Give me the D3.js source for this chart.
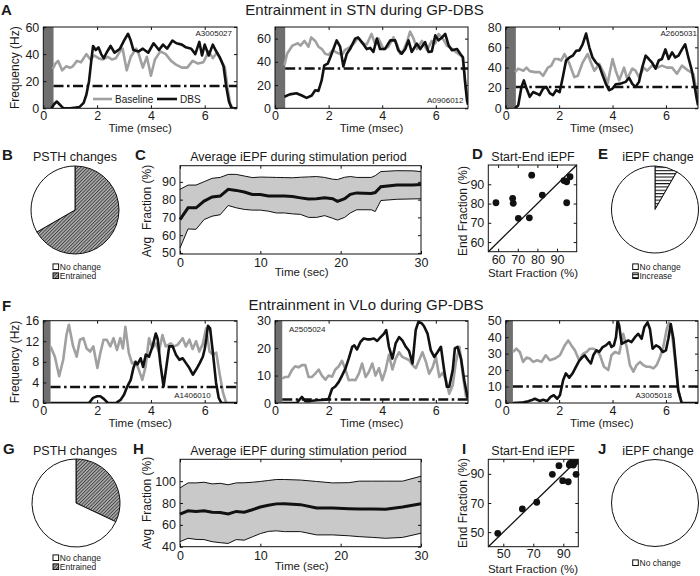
<!DOCTYPE html>
<html><head><meta charset="utf-8">
<script src="https://cdn.jsdelivr.net/npm/d3@7"></script>
<style>
body{margin:0;background:#fff}
svg{font-family:"Liberation Sans",Arial,sans-serif}
text{fill:#1a1a1a}
</style>
</head><body>
<script>
// ---------------- DATA ----------------
const timeTicks = [0, 2, 4, 6];
// Panel A (STN) traces: [time ms, frequency Hz]
const a1Baseline = [[0.35,29],[0.45,33],[0.55,35],[0.7,28],[0.85,31],[1.0,30],[1.1,31],[1.25,35],[1.4,34],[1.6,40],[1.75,36],[1.9,39],[2.05,37],[2.2,36],[2.4,38],[2.55,36],[2.7,37],[2.85,42],[2.95,44],[3.1,28],[3.25,38],[3.45,44],[3.55,40],[3.7,30],[3.85,38],[4.0,24],[4.15,36],[4.35,42],[4.55,40],[4.75,35],[4.95,32],[5.15,30],[5.35,30],[5.55,35],[5.75,33],[5.95,34],[6.15,42],[6.3,37],[6.45,41],[6.6,36],[6.75,30],[6.85,15],[6.95,3],[7.05,0]];
const a1Dbs = [[0.3,0],[0.4,3],[0.5,5],[0.6,3],[0.75,0],[1.0,0],[1.2,0.5],[1.35,1],[1.5,4],[1.6,10],[1.7,20],[1.8,38],[1.85,46],[1.95,43],[2.05,45],[2.15,40],[2.25,37],[2.35,41],[2.5,46],[2.65,41],[2.85,44],[3.0,50],[3.15,55],[3.25,50],[3.35,43],[3.55,42],[3.7,44],[3.9,41],[4.1,48],[4.3,43],[4.45,47],[4.6,44],[4.8,50],[4.95,48],[5.15,47],[5.3,45],[5.5,44],[5.65,40],[5.8,49],[5.9,39],[6.0,47],[6.15,39],[6.3,47],[6.4,43],[6.55,38],[6.7,31],[6.8,16],[6.9,5],[7.0,0],[7.2,0]];
const a2Baseline = [[0.35,37],[0.45,47],[0.65,54],[0.85,56],[0.95,54],[1.1,58],[1.25,53],[1.35,61],[1.5,58],[1.62,53],[1.75,51],[1.87,47],[2.0,46],[2.15,50],[2.3,48],[2.5,46],[2.6,50],[2.75,52],[2.95,56],[3.1,61],[3.25,56],[3.42,55],[3.6,64],[3.74,55],[3.86,60],[4.05,51],[4.23,53],[4.42,61],[4.55,55],[4.67,47],[4.8,50],[4.92,57],[5.04,66],[5.17,60],[5.3,51],[5.48,58],[5.67,50],[5.85,58],[5.98,56],[6.1,64],[6.29,59],[6.41,54],[6.55,52],[6.72,49],[6.9,46],[7.0,44],[7.1,20],[7.2,5]];
const a2Dbs = [[0.35,10],[0.55,12],[0.8,13],[1.0,11],[1.18,9],[1.37,11],[1.5,15.5],[1.62,15],[1.74,24],[1.84,37],[1.97,38.5],[2.05,43],[2.18,51],[2.3,58.5],[2.43,53],[2.55,36],[2.68,47],[2.8,51],[2.99,60],[3.1,61],[3.24,57],[3.42,51],[3.55,52],[3.67,48.5],[3.8,60],[3.92,51],[4.1,51],[4.3,58.5],[4.48,58.5],[4.6,50],[4.73,47],[4.86,51],[4.98,58.5],[5.1,48.5],[5.29,55.7],[5.42,51],[5.6,57],[5.73,48.5],[5.85,49],[5.98,62.8],[6.1,58.5],[6.23,61],[6.35,64],[6.48,54],[6.6,50],[6.79,51],[6.91,47],[7.01,44],[7.1,21],[7.16,7],[7.2,3]];
const a3Baseline = [[0.35,35.6],[0.47,39],[0.66,37],[0.78,40],[0.9,36.6],[1.09,35.6],[1.27,35.6],[1.4,32],[1.58,40],[1.71,42],[1.83,48.5],[1.96,48.5],[2.08,47],[2.2,53.4],[2.39,43.7],[2.57,30.7],[2.7,32],[2.88,45],[3.07,53.4],[3.19,45],[3.32,37],[3.5,43.7],[3.69,34],[3.81,24],[4.0,48.5],[4.12,37],[4.25,27.5],[4.43,40],[4.55,29],[4.74,39],[4.86,37],[4.99,30.7],[5.17,40],[5.3,37],[5.48,42],[5.67,40],[5.85,42],[6.04,40],[6.23,40],[6.41,34],[6.6,42],[6.84,37],[7.03,34],[7.12,20],[7.2,10]];
const a3Dbs = [[0.35,0],[0.47,3],[0.59,21],[0.68,27.5],[0.78,19.4],[0.9,11.3],[1.03,16],[1.15,14.6],[1.27,13],[1.4,19.4],[1.52,21],[1.65,15],[1.77,13],[1.89,17.8],[2.02,16],[2.14,30.7],[2.26,47],[2.39,50],[2.51,51.8],[2.64,56.6],[2.76,57],[2.88,63],[3.01,73.5],[3.13,60],[3.25,50],[3.38,45],[3.5,42],[3.63,32.4],[3.75,24],[3.87,17.8],[4.0,19.4],[4.12,23.6],[4.25,24],[4.37,25],[4.49,26],[4.62,30],[4.74,24],[4.86,21],[4.99,26],[5.11,40],[5.24,51.8],[5.36,48.5],[5.48,45],[5.61,39],[5.73,47],[5.85,48.5],[5.98,58],[6.1,48.5],[6.23,55],[6.35,50],[6.47,51.8],[6.6,58],[6.72,63],[6.84,50],[6.97,37],[7.09,19],[7.15,9.7],[7.2,3]];
// Panel F (VLo) traces
const f1Baseline = [[0.27,11],[0.43,9],[0.59,5.2],[0.74,8.4],[0.86,13.2],[0.95,15.2],[1.11,11],[1.24,9],[1.36,12.3],[1.49,12.6],[1.61,10.6],[1.74,10],[1.86,11],[2.01,6.8],[2.11,9.5],[2.24,12.3],[2.36,12.3],[2.49,11],[2.61,12.6],[2.74,10.3],[2.86,12.6],[2.96,10.6],[3.05,14.8],[3.18,9.7],[3.3,7.7],[3.43,8],[3.55,6.5],[3.68,4.5],[3.8,7],[3.93,12.6],[4.05,10.6],[4.18,11.6],[4.3,10],[4.43,13.2],[4.55,11],[4.74,11.6],[4.86,11],[4.99,11.3],[5.18,12.6],[5.3,11],[5.43,12.3],[5.55,10.5],[5.68,12],[5.8,10],[5.93,11.5],[6.05,14.5],[6.18,10],[6.3,9.4],[6.43,9.8],[6.55,5.8],[6.68,2],[6.8,0]];
const f1Dbs = [[0.27,0],[1.7,0],[1.85,1],[2.0,1.3],[2.12,1.3],[2.25,0.8],[2.4,0],[2.7,0],[2.87,0.6],[3.0,1.6],[3.12,3.2],[3.25,4.5],[3.35,6.8],[3.43,8],[3.5,7.5],[3.62,8.7],[3.71,7],[3.81,9.4],[3.93,9],[4.06,11],[4.18,13.5],[4.25,12.5],[4.35,7.7],[4.47,3.2],[4.56,6.5],[4.68,11],[4.81,11],[4.93,9.4],[5.06,8.4],[5.18,8.7],[5.31,7.7],[5.43,6.8],[5.56,5.5],[5.68,6.5],[5.81,7.7],[5.93,9],[6.0,10.5],[6.06,12.5],[6.12,15],[6.2,14.5],[6.3,10],[6.42,4],[6.52,1],[6.62,0],[7.2,0]];
const f2Baseline = [[0.27,8.9],[0.38,9.5],[0.5,9.5],[0.63,12],[0.75,13.4],[0.88,13],[1.0,13.8],[1.13,13.8],[1.25,9.5],[1.38,9.5],[1.5,10.7],[1.63,12.2],[1.75,10],[1.88,8.5],[2.0,10],[2.13,9.6],[2.25,12.2],[2.38,13.4],[2.5,15.4],[2.63,12.2],[2.75,8.3],[2.88,8.5],[3.0,8.3],[3.13,10.7],[3.25,14.4],[3.38,9.5],[3.5,11.3],[3.63,14.4],[3.75,10],[3.88,12.7],[4.0,8.3],[4.13,12.2],[4.25,17.6],[4.38,12.2],[4.5,16.2],[4.63,18.5],[4.75,16.8],[4.88,16.2],[5.0,15.7],[5.13,13.8],[5.25,12.7],[5.38,15.7],[5.5,18.5],[5.63,15],[5.75,10.7],[5.88,13],[6.0,16.8],[6.13,9.5],[6.25,11],[6.38,8.3],[6.5,3.4],[6.63,6.5],[6.75,15],[6.88,20.5],[7.0,10.7],[7.13,2]];
const f2Dbs = [[0.27,0],[0.81,0],[1.0,2.2],[1.13,0.7],[1.31,0.7],[1.56,1],[1.88,1.2],[2.0,1.5],[2.13,5.2],[2.25,6],[2.38,7.7],[2.5,10],[2.63,12.6],[2.75,16.2],[2.88,20.5],[2.96,21],[3.06,19.5],[3.19,22.3],[3.31,23.5],[3.44,23.2],[3.56,23.2],[3.69,23.5],[3.81,22.6],[3.94,24],[4.06,25.2],[4.15,26.6],[4.25,20.5],[4.38,16.2],[4.5,21.7],[4.63,24],[4.75,22.8],[4.88,20.5],[5.0,19],[5.13,14.4],[5.25,26.6],[5.35,29.6],[5.48,29],[5.56,28],[5.69,25.3],[5.81,19.3],[5.94,16.8],[6.06,18.5],[6.19,20.5],[6.31,12],[6.41,5.9],[6.5,5.9],[6.63,12],[6.71,19.9],[6.81,20.5],[6.94,16.2],[7.06,8.3],[7.19,1.6]];
const f3Baseline = [[0.27,31],[0.4,33],[0.53,31],[0.65,25],[0.78,27.6],[0.9,27],[1.03,25],[1.18,26],[1.34,25],[1.5,29],[1.65,26],[1.84,27],[2.03,29],[2.21,35],[2.34,38],[2.46,35],[2.59,32],[2.75,26],[2.9,30],[3.03,31],[3.15,33],[3.28,33],[3.4,32],[3.53,29],[3.68,22],[3.84,20],[3.96,29],[4.09,31],[4.25,30],[4.4,42],[4.53,34],[4.65,23],[4.78,19],[4.9,23],[5.03,25],[5.15,23],[5.28,22],[5.4,22],[5.53,21],[5.65,23],[5.78,28],[5.9,34],[6.03,45],[6.11,48.8],[6.21,44],[6.34,26],[6.46,7.7],[6.59,0]];
const f3Dbs = [[0.27,0],[0.59,0.2],[0.84,1],[0.96,1.6],[1.09,2.6],[1.28,1.2],[1.4,2],[1.55,1.2],[1.68,3.7],[1.8,4.7],[1.93,2.6],[2.03,4.7],[2.15,13.8],[2.25,18],[2.38,15.4],[2.5,17.9],[2.63,22],[2.75,25.6],[2.88,28],[2.96,29],[3.09,26],[3.19,24],[3.28,29],[3.4,32],[3.5,31],[3.63,34],[3.75,35],[3.88,37],[3.96,34],[4.05,35],[4.13,40],[4.19,50],[4.25,47],[4.34,36],[4.46,37],[4.59,38],[4.71,37],[4.84,40],[4.96,42],[5.09,39],[5.19,46],[5.31,49],[5.4,45],[5.5,33],[5.63,35],[5.75,34],[5.88,31],[6.0,32],[6.09,39],[6.18,48],[6.28,39],[6.38,22],[6.46,7.7],[6.59,0],[7.2,0]];
// Panel C / H: average iEPF (time sec, mean, upper, lower)
const cTime  = [0,1,2,3,4,5,6,7,8,9,10,11,12,13,14,15,16,17,18,19,19.6,20.5,21.2,22,23.8,24.3,25,27,29,30];
const cMean  = [68.8,75.4,75.4,79.2,81.5,82,85.8,85.2,84.3,82.9,82.9,82,82,82,81.8,81,80.3,80.5,81,80.5,79,80.5,83,83.8,83.5,84,87.3,88.2,88.3,88.5];
const cUpper = [85.8,88.2,88.2,90.1,92,92.5,94.2,94.2,93.3,92.4,92.7,92.6,92.5,92.4,92.3,92.6,92.8,93,92.5,91.5,91.3,92.6,93,92.5,92.5,93.5,95.8,96.3,96.2,95.8];
const cLower = [52.8,63.5,63.3,68.8,70.7,71.5,76.7,75.4,74.5,74.1,74.1,73.5,72.5,72.5,72,71.7,70,70,71,69.5,68.5,70,72.5,74.3,74.3,73.3,79.5,80.2,80.4,80.5];
const hTime  = [0,1,2,3,4,5,6,7,8,9,10,11,12,13,15,17,19,21,22.3,24,25.6,27.7,30];
const hMean  = [69.9,72.9,72.3,72.9,71.6,71.2,69.9,72.3,71.6,73.8,76.3,78,79.2,79.4,78.5,75.4,75.4,74.8,74.5,74.5,74.3,76.3,79.4];
const hUpper = [93.8,98.4,98.4,99,97.5,98,96.7,98.4,98.5,99,99.7,100.6,101.5,101.5,101,99.7,98.4,98.6,100,100,100,100,104.5];
const hLower = [44.6,47.7,46.7,46.5,44.6,43.7,43,46.5,46,49,52,54,54.5,53.8,53.8,50.8,50.8,50,49.2,48.5,47.7,48.5,52.3];
// Panel D / I: start vs end fraction (%)
const dStart = [58.9,67.4,67.7,70.3,75.9,77.1,82.5,93.5,94.9,94.9,96.6];
const dEnd   = [80.4,82.7,80.1,72.3,72.6,94.7,84.4,91.9,91.3,80.4,93.9];
const iStart = [46.3,62.7,72.3,82.7,87.1,89.6,93.3,94,95.6,97.8,96.7,98.5,94.5];
const iEnd   = [49.2,65.9,70.5,89.7,95.6,85.3,84.6,96.1,97.9,97.9,96.1,89.7,97.2];
// Pies (clockwise from 12 o'clock)
const pieBLabels = ["Entrained","No change"], pieBValues = [8,4];
const pieELabels = ["Increase","No change"],  pieEValues = [1,11];
const pieGLabels = ["Entrained","No change"], pieGValues = [32,68];
const pieJLabels = ["No change"],             pieJValues = [1];

// ---------------- DRAWING ----------------
const FONT = '"Liberation Sans",Arial,sans-serif';
const svg = d3.select("body").append("svg").attr("width",700).attr("height",576);
const defs = svg.append("defs");
const pd = defs.append("pattern").attr("id","diag").attr("patternUnits","userSpaceOnUse")
  .attr("width",2.4).attr("height",2.4).attr("patternTransform","rotate(45)");
pd.append("rect").attr("width",2.4).attr("height",2.4).attr("fill","#b4b4b4");
pd.append("rect").attr("width",1).attr("height",2.4).attr("fill","#404040");
const ph = defs.append("pattern").attr("id","horiz").attr("patternUnits","userSpaceOnUse")
  .attr("width",4).attr("height",3.3);
ph.append("rect").attr("width",4).attr("height",3.3).attr("fill","#fff");
ph.append("rect").attr("width",4).attr("height",1.1).attr("fill","#111");

function clean(sel){
  sel.select(".domain").remove();
  sel.attr("font-family",FONT).attr("font-size",12.5);
  sel.selectAll("line").attr("stroke","#111");
  sel.selectAll("text").attr("fill","#1a1a1a");
}
function box(g, xs, ys, xTicks, yTicks, xPad){
  const [x0,x1] = xs.range(), [yb,yt] = ys.range();
  g.append("g").attr("transform",`translate(0,${yb})`)
    .call(d3.axisBottom(xs).tickValues(xTicks).tickSize(-3).tickPadding(xPad)).call(clean);
  g.append("g").attr("transform",`translate(0,${yt})`)
    .call(d3.axisTop(xs).tickValues(xTicks).tickSize(-3).tickFormat("")).call(clean);
  g.append("g").attr("transform",`translate(${x0},0)`)
    .call(d3.axisLeft(ys).tickValues(yTicks).tickSize(-3).tickPadding(4)).call(clean);
  g.append("g").attr("transform",`translate(${x1},0)`)
    .call(d3.axisRight(ys).tickValues(yTicks).tickSize(-3).tickFormat("")).call(clean);
  g.append("rect").attr("x",x0).attr("y",yt).attr("width",x1-x0).attr("height",yb-yt)
    .attr("fill","none").attr("stroke","#111").attr("stroke-width",1);
}
function txt(x,y,s,size,anchor,extra){
  const t = svg.append("text").attr("x",x).attr("y",y).attr("font-size",size)
    .attr("text-anchor",anchor||"start").text(s);
  if(extra) extra(t);
  return t;
}
function rotTxt(x,y,s,size){
  return svg.append("text").attr("transform",`translate(${x},${y}) rotate(-90)`)
    .attr("text-anchor","middle").attr("dominant-baseline","central")
    .attr("font-size",size).style("white-space","pre").text(s);
}

// Trace panels
const tracePanels = [
  {key:"a1",x0:43.3,x1:237,yTop:27,yBot:108.3,yMax:60,yTicks:[0,20,40,60],bar:0.38,thr:16.5,base:a1Baseline,dbs:a1Dbs,id:"A3005027",idX:232,idY:36,idA:"end"},
  {key:"a2",x0:275,x1:468,yTop:27,yBot:108.3,yMax:70,yTicks:[0,20,40,60],bar:0.38,thr:34.3,base:a2Baseline,dbs:a2Dbs,id:"A0906012",idX:463.5,idY:103,idA:"end"},
  {key:"a3",x0:505.7,x1:698,yTop:27,yBot:108.3,yMax:80,yTicks:[0,20,40,60,80],bar:0.38,thr:21,base:a3Baseline,dbs:a3Dbs,id:"A2605031",idX:697,idY:36,idA:"end"},
  {key:"f1",x0:43.3,x1:237,yTop:320.7,yBot:403,yMax:16,yTicks:[0,4,8,12,16],bar:0.27,thr:3.1,base:f1Baseline,dbs:f1Dbs,id:"A1406010",idX:210.7,idY:398,idA:"end"},
  {key:"f2",x0:275,x1:468,yTop:320.7,yBot:403,yMax:30,yTicks:[0,10,20,30],bar:0.27,thr:1.3,base:f2Baseline,dbs:f2Dbs,id:"A2505024",idX:289,idY:332,idA:"start"},
  {key:"f3",x0:505.7,x1:698,yTop:320.7,yBot:403,yMax:50,yTicks:[0,10,20,30,40,50],bar:0.27,thr:10,base:f3Baseline,dbs:f3Dbs,id:"A3005018",idX:672,idY:397.5,idA:"end"}
];
tracePanels.forEach(p=>{
  const x = d3.scaleLinear().domain([0,7.2]).range([p.x0,p.x1]);
  const y = d3.scaleLinear().domain([0,p.yMax]).range([p.yBot,p.yTop]);
  defs.append("clipPath").attr("id","clip"+p.key).append("rect")
    .attr("x",p.x0).attr("y",p.yTop).attr("width",p.x1-p.x0).attr("height",p.yBot-p.yTop);
  const g = svg.append("g");
  g.append("rect").attr("x",x(0)).attr("y",p.yTop).attr("width",x(p.bar)-x(0))
    .attr("height",p.yBot-p.yTop).attr("fill","#6f6f6f");
  const line = d3.line().x(d=>x(d[0])).y(d=>y(d[1]));
  const pl = g.append("g").attr("clip-path",`url(#clip${p.key})`);
  pl.append("path").attr("d",line(p.base)).attr("fill","none").attr("stroke","#a0a0a0")
    .attr("stroke-width",2.6).attr("stroke-linejoin","round");
  pl.append("path").attr("d",line(p.dbs)).attr("fill","none").attr("stroke","#111")
    .attr("stroke-width",2.6).attr("stroke-linejoin","round");
  pl.append("line").attr("x1",x(p.bar)).attr("x2",p.x1).attr("y1",y(p.thr)).attr("y2",y(p.thr))
    .attr("stroke","#111").attr("stroke-width",2.4).attr("stroke-dasharray","10,3.5,2.5,3.5");
  box(g,x,y,timeTicks,p.yTicks,3);
  txt(p.idX,p.idY,p.id,8,p.idA);
  txt((p.x0+p.x1)/2, p.yBot+24, "Time (msec)", 11.5, "middle");
});
// legend in A1
svg.append("line").attr("x1",93).attr("x2",112).attr("y1",99).attr("y2",99).attr("stroke","#a0a0a0").attr("stroke-width",2.6);
txt(115,102.5,"Baseline",10);
svg.append("line").attr("x1",157).attr("x2",177).attr("y1",99).attr("y2",99).attr("stroke","#111").attr("stroke-width",2.6);
txt(180,102.5,"DBS",10);
rotTxt(15,67.7,"Frequency (Hz)",12);
rotTxt(15,362,"Frequency (Hz)",12);

// Main titles
txt(364.5,14.5,"Entrainment in STN during GP-DBS",15,"middle");
txt(366,310,"Entrainment in VLo during GP-DBS",15,"middle");

// Band panels C and H
function bandPanel(x0,x1,yTop,yBot,yDom,yTicks,T,M,U,L){
  const x = d3.scaleLinear().domain([0,30]).range([x0,x1]);
  const y = d3.scaleLinear().domain(yDom).range([yBot,yTop]);
  const g = svg.append("g");
  const rows = T.map((t,i)=>({t:t,m:M[i],u:U[i],l:L[i]}));
  g.append("path").attr("d",d3.area().x(d=>x(d.t)).y0(d=>y(d.l)).y1(d=>y(d.u))(rows))
    .attr("fill","#c9c9c9");
  g.append("path").attr("d",d3.line().x(d=>x(d.t)).y(d=>y(d.u))(rows)).attr("fill","none").attr("stroke","#111").attr("stroke-width",1);
  g.append("path").attr("d",d3.line().x(d=>x(d.t)).y(d=>y(d.l))(rows)).attr("fill","none").attr("stroke","#111").attr("stroke-width",1);
  g.append("path").attr("d",d3.line().x(d=>x(d.t)).y(d=>y(d.m))(rows)).attr("fill","none").attr("stroke","#111").attr("stroke-width",3);
  box(g,x,y,[0,10,20,30],yTicks,4);
}
bandPanel(180,421,165.7,254,[49.4,99.1],[50,60,70,80,90],cTime,cMean,cUpper,cLower);
bandPanel(180,421,459.3,546.7,[40,120],[40,60,80,100],hTime,hMean,hUpper,hLower);
txt(301.7,276,"Time (sec)",11.5,"middle");
txt(301.7,570,"Time (sec)",11.5,"middle");
rotTxt(147,211,"Avg  Fraction (%)",12);
rotTxt(147,503,"Avg  Fraction (%)",12);

// Scatter D and I
function scatterPanel(x0,x1,yTop,yBot,dom,ticks,S,E,xPad){
  const x = d3.scaleLinear().domain(dom).range([x0,x1]);
  const y = d3.scaleLinear().domain(dom).range([yBot,yTop]);
  const g = svg.append("g");
  g.append("line").attr("x1",x(dom[0])).attr("y1",y(dom[0])).attr("x2",x(dom[1])).attr("y2",y(dom[1]))
    .attr("stroke","#111").attr("stroke-width",1.3);
  g.selectAll("circle").data(S.map((s,i)=>[s,E[i]])).join("circle")
    .attr("cx",d=>x(d[0])).attr("cy",d=>y(d[1])).attr("r",3.4).attr("fill","#111");
  box(g,x,y,ticks,ticks,xPad);
}
scatterPanel(488.3,576.7,165,251.7,[55,100],[60,70,80,90],dStart,dEnd,3);
scatterPanel(488.3,578.3,459.3,546.7,[40,100],[50,70,90],iStart,iEnd,2);
txt(533,277,"Start Fraction (%)",11.5,"middle");
txt(533,572.5,"Start Fraction (%)",11.5,"middle");
rotTxt(463.3,211,"End Fraction (%)",12);
rotTxt(463.3,503,"End Fraction (%)",12);

// Pies
function pieChart(cx,cy,r,labels,values,fills){
  const arcs = d3.pie().sort(null).value(d=>d)(values);
  const arc = d3.arc().innerRadius(0).outerRadius(r);
  const g = svg.append("g").attr("transform",`translate(${cx},${cy})`);
  g.selectAll("path").data(arcs).join("path").attr("d",arc)
    .attr("fill",(d,i)=>fills[labels[i]]).attr("stroke","#111").attr("stroke-width",1);
}
const fillMap = {"Entrained":"url(#diag)","No change":"#fff","Increase":"url(#horiz)"};
pieChart(75,210,44,pieBLabels,pieBValues,fillMap);
pieChart(655,209.5,43.5,pieELabels,pieEValues,fillMap);
pieChart(76,503,44,pieGLabels,pieGValues,fillMap);
pieChart(655,503,43.5,pieJLabels,pieJValues,fillMap);

function pieLegend(x,y,items){
  items.forEach((lab,i)=>{
    svg.append("rect").attr("x",x).attr("y",y+i*9-2.8).attr("width",5.6).attr("height",5.6)
      .attr("fill",fillMap[lab]).attr("stroke","#111").attr("stroke-width",1);
    txt(x+6.8,y+i*9+3,lab,8.5);
  });
}
pieLegend(53,266.7,["No change","Entrained"]);
pieLegend(632.7,266.7,["No change","Increase"]);
pieLegend(53,557.7,["No change","Entrained"]);
pieLegend(632.7,562.7,["No change"]);

// Panel titles
txt(75,161,"PSTH changes",12.5,"middle");
txt(298.5,161,"Average iEPF during stimulation period",12.5,"middle");
txt(533,161,"Start-End iEPF",12.5,"middle");
txt(658,161,"iEPF change",12.5,"middle");
txt(75,455,"PSTH changes",12.5,"middle");
txt(298.5,455,"Average iEPF during stimulation period",12.5,"middle");
txt(533,455,"Start-End iEPF",12.5,"middle");
txt(658,455,"iEPF change",12.5,"middle");

// Panel letters
const bold = t=>t.attr("font-weight","bold");
txt(1,15,"A",15,"start",bold);
txt(2,160,"B",15,"start",bold);
txt(135,160,"C",15,"start",bold);
txt(472,159,"D",15,"start",bold);
txt(598,159,"E",15,"start",bold);
txt(2,311,"F",15,"start",bold);
txt(3,454,"G",15,"start",bold);
txt(133,454,"H",15,"start",bold);
txt(462,454,"I",15,"start",bold);
txt(598,454,"J",15,"start",bold);
</script>
</body></html>
